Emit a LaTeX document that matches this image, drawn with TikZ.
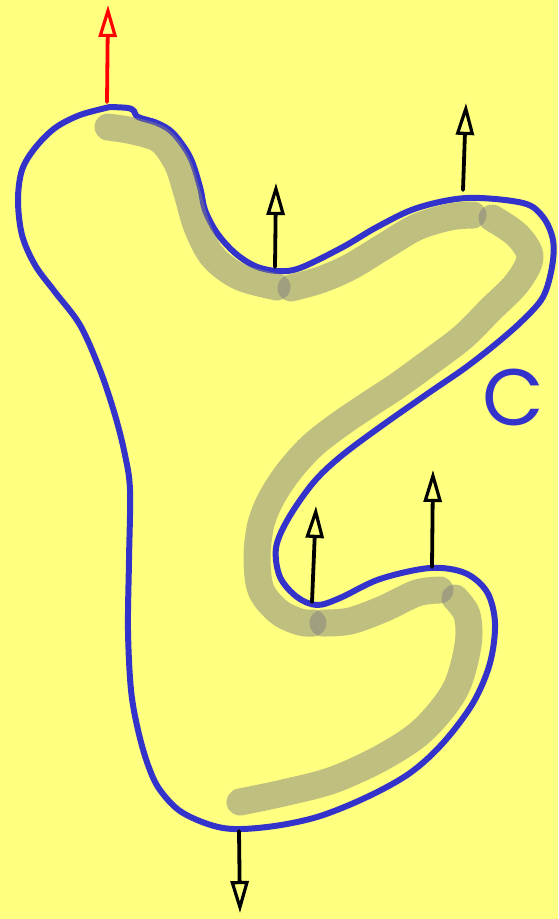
\documentclass[tikz,border=0pt]{standalone}
\usepackage{fontspec}
\newfontfamily\labelfont{Poppins}
\usetikzlibrary{arrows.meta}
\definecolor{bgyellow}{RGB}{255,255,128}
\definecolor{curveblue}{RGB}{51,51,204}
\tikzset{
  x=1pt,y=-1pt,
  boundary/.style={draw=curveblue,line width=6pt,line join=round,line cap=round},
  band/.style={draw=gray,draw opacity=0.5,line width=27pt,line cap=round,line join=round},
  normal/.style={line width=3.8pt,line cap=round,-{Triangle[open,length=32pt,width=18pt,line width=3.2pt]}},
}
\begin{document}
\begin{tikzpicture}
\fill[bgyellow] (0,0) rectangle (558,919);
\useasboundingbox (0,0) rectangle (558,919);
% boundary curve C
\draw[boundary] plot[smooth,tension=0.55] coordinates {
(110,107) (128,108) (134,111) (138,117) (157,123) (173,133) (190,157) (200,187) (205,210) (217,233) (235,253) (255,266) (277,271) (300,268) (343,247) (377,227) (417,208) (467,198) (523,203) (543,217) (553,240) (552,267) (543,297) (523,320) (497,343) (465,368) (430,392) (380,427) (340,457) (313,483) (288,519) (276,548) (280,577) (297,597) (317,605) (340,598) (380,579) (430,568) (465,573) (487,592) (495,623) (490,663) (473,703) (443,743) (410,773) (367,797) (317,817) (267,827) (223,828) (183,813) (160,790) (148,765) (138,730) (131,690) (128,630) (129,560) (130,490) (125,455) (115,415) (100,370) (80,325) (55,292) (35,265) (22,235) (18,200) (22,170) (35,148) (55,128) (80,115) (110,107)};
% grey bands
\draw[band] plot[smooth,tension=0.55] coordinates {(108,127) (133,131) (160,140) (177,163) (187,193) (197,227) (213,257) (240,277) (277,287)};
\draw[band] plot[smooth,tension=0.55] coordinates {(291,288) (320,280) (350,267) (383,247) (417,227) (450,217) (473,215)};
\draw[band] plot[smooth,tension=0.55] coordinates {(492,218) (517,235) (530,257) (517,283) (490,310) (463,337) (430,362) (397,386) (368,405) (340,424) (313,445) (290,470) (272,497) (261,524) (257,557) (261,590) (279,612) (300,622) (313,623)};
\draw[band] plot[smooth,tension=0.55] coordinates {(323,623) (350,621) (383,609) (417,593) (440,590)};
\draw[band] plot[smooth,tension=0.55] coordinates {(455,598) (467,615) (468,645) (455,690) (423,730) (383,757) (333,780) (283,793) (240,802)};
% normals
\coordinate (r0) at (107,102); \coordinate (r1) at (108,5);
\coordinate (a0) at (275,267); \coordinate (a1) at (276,183);
\coordinate (b0) at (463,190); \coordinate (b1) at (466,103);
\coordinate (c0) at (312,602); \coordinate (c1) at (316,506);
\coordinate (d0) at (432,567); \coordinate (d1) at (433,470);
\coordinate (e0) at (239,831); \coordinate (e1) at (240,913);
\draw[normal,red] (r0) -- (r1);
\draw[normal,black] (a0) -- (a1);
\draw[normal,black] (b0) -- (b1);
\draw[normal,black] (c0) -- (c1);
\draw[normal,black] (d0) -- (d1);
\draw[normal,black] (e0) -- (e1);
% label
\node[text=curveblue,font=\labelfont\fontsize{80}{80}\selectfont,inner sep=0pt] (lab) at (513,397) {C};
\end{tikzpicture}
\end{document}
